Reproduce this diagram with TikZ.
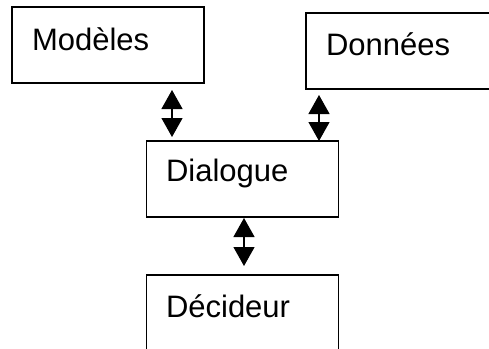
\documentclass[tikz,border=0pt]{standalone}
\usepackage{fontspec}
\setmainfont{Liberation Sans}
\usetikzlibrary{arrows.meta}
\begin{document}
\begin{tikzpicture}[x=1pt,y=-1pt,
  boxnode/.style={draw=black,line width=1.3pt,rectangle,inner sep=0pt,outer sep=0pt,
    minimum width=192pt,minimum height=76pt},
  lbl/.style={anchor=base west,inner sep=0pt,outer sep=0pt,font=\fontsize{31}{37}\selectfont},
  dbl/.style={line width=1.2pt,{Triangle[length=19pt,width=21pt]}-{Triangle[length=19pt,width=21pt]}}]
\useasboundingbox (0,0) rectangle (489,348);
\node[boxnode] (mod) at (108,45) {};
\node[boxnode] (don) at (402,51) {};
\node[boxnode] (dia) at (242.5,179) {};
\node[boxnode] (dec) at (242.5,313) {};
\node[lbl] (tmod) at (32,50) {Modèles};
\node[lbl] (tdon) at (326,55) {Données};
\node[lbl] (tdia) at (166,181) {Dialogue};
\node[lbl] (tdec) at (166,317) {Décideur};
\coordinate (a1) at (172,0);
\coordinate (a2) at (319,0);
\coordinate (a3) at (244,0);
\draw[dbl,shorten <=7pt,shorten >=4pt] (mod.south -| a1) -- (dia.north -| a1);
\draw[dbl,shorten <=6pt,shorten >=0pt] (don.south -| a2) -- (dia.north -| a2);
\draw[dbl,shorten <=1pt,shorten >=9pt] (dia.south -| a3) -- (dec.north -| a3);
\end{tikzpicture}
\end{document}
